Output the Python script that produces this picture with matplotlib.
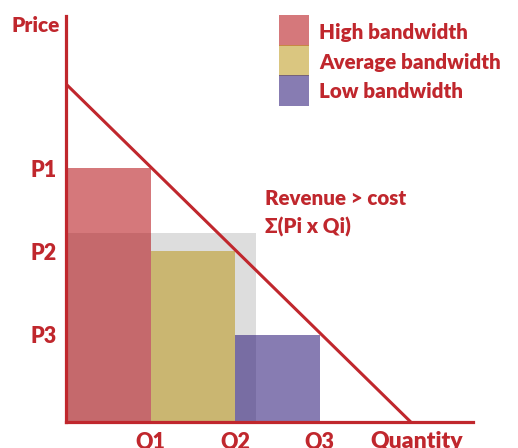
import matplotlib
matplotlib.use("Agg")
import matplotlib.pyplot as plt
from matplotlib.patches import Rectangle

plt.rcParams['font.family'] = ['Lato', 'DejaVu Sans']
plt.rcParams['font.weight'] = 800

RED = '#C0272D'
WT = 800

# Tiered pricing under a linear demand curve
tiers = ['High bandwidth', 'Average bandwidth', 'Low bandwidth']
quantity_labels = ['Q1', 'Q2', 'Q3']
price_labels = ['P1', 'P2', 'P3']
quantities = [1.0, 2.0, 3.0]
prices = [3.0, 2.02, 1.03]
tier_colors = ['#B30A0F', '#BC9718', '#251174']
tier_alpha = 0.55

demand_q = [0.0, 4.08]
demand_p = [4.0, 0.0]

cost_q = 2.25
cost_p = 2.24

W, H = 518, 448
fig = plt.figure(figsize=(W / 100, H / 100), dpi=100)

x0, y0, x1, y1 = 66, 16, 473, 422
ax = fig.add_axes([x0 / W, 1 - y1 / H, (x1 - x0) / W, (y1 - y0) / H])
ax.set_xlim(0, (x1 - x0) / 84.5)
ax.set_ylim(0, (y1 - y0) / 84.5)

# cost block behind the tiers
ax.add_patch(Rectangle((0, 0), cost_q, cost_p, facecolor='#DDDDDD',
                       edgecolor='none', zorder=1))

lefts = [0.0] + quantities[:-1]
widths = [q - l for q, l in zip(quantities, lefts)]
ax.bar(lefts, prices, width=widths, align='edge', color=tier_colors,
       alpha=tier_alpha, edgecolor='none', zorder=2)

ax.plot(demand_q, demand_p, color=RED, lw=2.2, zorder=3, solid_capstyle='butt')

for side in ('top', 'right'):
    ax.spines[side].set_visible(False)
for side in ('left', 'bottom'):
    ax.spines[side].set_color(RED)
    ax.spines[side].set_linewidth(2.3)
    ax.spines[side].set_zorder(4)

ax.set_xticks(quantities, quantity_labels)
ax.set_yticks(prices, price_labels)
ax.tick_params(length=0, labelcolor=RED, labelsize=15.5)
ax.tick_params(axis='x', pad=7)
ax.tick_params(axis='y', pad=7)
for lab in ax.get_xticklabels() + ax.get_yticklabels():
    lab.set_fontweight(WT)

def px(x, y):
    return x / W, 1 - y / H

fig.text(*px(36, 25), 'Price', color=RED, fontsize=15, fontweight=WT,
         ha='center', va='center')
fig.text(*px(417, 448), 'Quantity', color=RED, fontsize=16.5, fontweight=WT,
         ha='center', va='baseline')

fig.text(*px(265, 198), 'Revenue > cost', color=RED, fontsize=14.8,
         fontweight=WT, ha='left', va='center')
fig.text(*px(265, 227), 'Σ(Pi x Qi)', color=RED, fontsize=14.8,
         fontweight=WT, ha='left', va='center')

# legend swatches stacked edge to edge
sw_x, sw_w = 279, 30
sw_tops = [15, 45, 75]
sw_h = 31
for name, col, top, ty in zip(tiers, tier_colors, sw_tops, [33, 62, 91]):
    fig.patches.append(Rectangle(px(sw_x, top + sw_h), sw_w / W, sw_h / H,
                                 transform=fig.transFigure, facecolor=col,
                                 alpha=tier_alpha, edgecolor='none'))
    fig.text(*px(319, ty), name, color=RED, fontsize=14.8, fontweight=WT,
             ha='left', va='center')

fig.savefig('out.png', dpi=100)
